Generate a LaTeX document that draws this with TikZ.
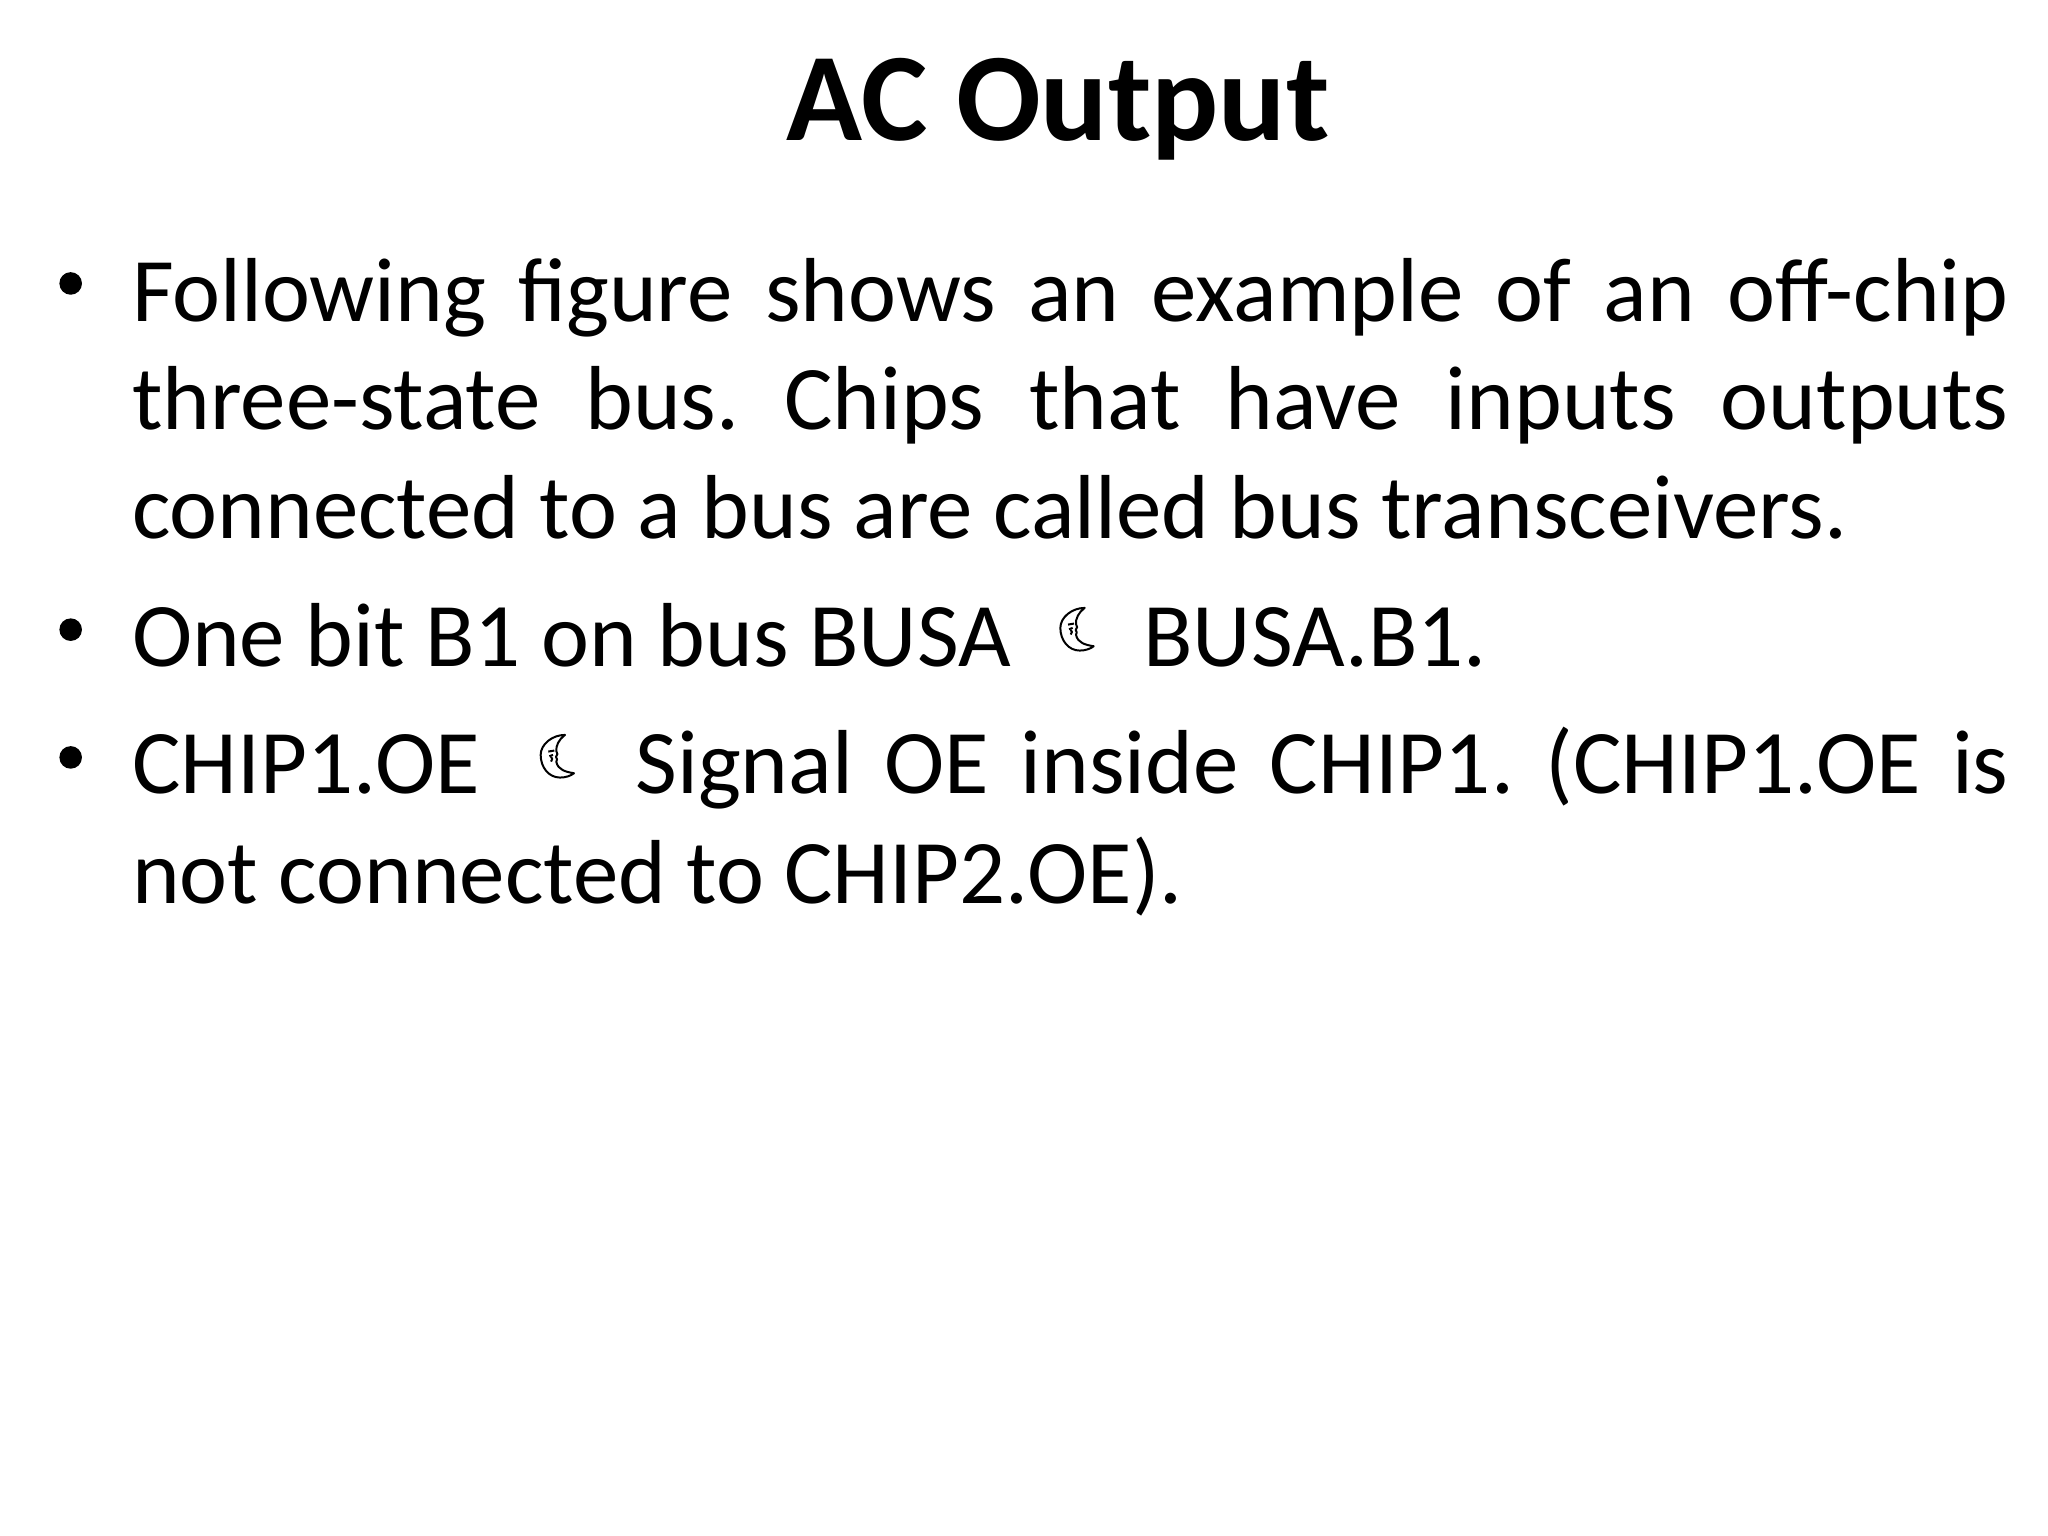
\documentclass[tikz,border=0pt]{standalone}
\usepackage{fontspec}
\setmainfont{Carlito}
\usetikzlibrary{positioning}
\tikzset{
  titletext/.style={font=\fontsize{47.2}{56}\selectfont\bfseries,inner sep=0pt,anchor=base},
  bodyline/.style={font=\fontsize{34.22}{41}\selectfont\frenchspacing,inner sep=0pt,anchor=base west},
  dotmark/.style={circle,fill=black,inner sep=0pt,minimum size=8.5pt},
  moonface/.pic={
    \begin{scope}[x=0.00441cm,y=0.00441cm,line width=0.75pt,line join=round]
    \draw (23,63) .. controls (-15,63) and (-50,35) .. (-50,3)
      .. controls (-50,-35) and (-25,-65) .. (8,-65)
      .. controls (25,-65) and (40,-60) .. (50,-52)
      .. controls (25,-48) and (2,-42) .. (-3,-18)
      .. controls (0,-12) and (0,-8) .. (-4,-3)
      .. controls (3,3) and (0,8) .. (-3,14)
      .. controls (-5,30) and (5,50) .. (23,63) -- cycle;
    \draw (-27,13) -- (-9,16);
    \draw (-24,-1) -- (-13,3);
    \draw (-19,-17) .. controls (-14,-12) and (-14,-6) .. (-19,-3);
    \end{scope}
  }
}
\begin{document}
\begin{tikzpicture}[x=1cm,y=1cm]
\useasboundingbox (0,0) rectangle (27.0933,20.32);
\node [titletext] (title) at (14.0,18.46) {AC Output};

\node [dotmark] (d1) at (0.935,16.57) {};
\node [dotmark] (d2) at (0.935,11.99) {};
\node [dotmark] (d3) at (0.935,10.30) {};

\node [bodyline] (l1) at (1.74,16.07) {\makebox[24.83cm][s]{Following figure shows an example of an off-chip}};
\node [bodyline] (l2) at (1.74,14.64) {\makebox[24.83cm][s]{three-state bus. Chips that have inputs outputs}};
\node [bodyline] (l3) at (1.74,13.20) {connected to a bus are called bus transceivers.};

\node [bodyline] (l4) at (1.74,11.50) {One bit B1 on bus BUSA};
\pic at (14.248,12.0) {moonface};
\node [bodyline] (l4b) at (15.12,11.50) {BUSA.B1.};

\node [bodyline] (l5) at (1.74,9.82) {CHIP1.OE};
\pic at (7.373,10.32) {moonface};
\node [bodyline] (l5b) at (8.40,9.82) {\makebox[18.17cm][s]{Signal OE inside CHIP1. (CHIP1.OE is}};
\node [bodyline] (l6) at (1.74,8.37) {not connected to CHIP2.OE).};
\end{tikzpicture}
\end{document}
